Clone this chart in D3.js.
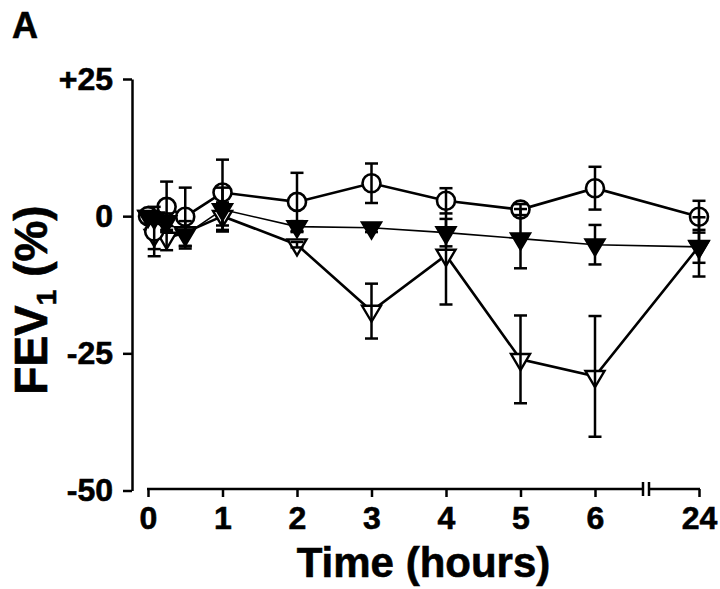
<!DOCTYPE html>
<html><head><meta charset="utf-8">
<script src="https://cdn.jsdelivr.net/npm/d3@7"></script>
<style>
html,body{margin:0;padding:0;background:#fff;}
svg{display:block;font-family:"Liberation Sans",Arial,Helvetica,sans-serif;font-weight:bold;}
</style></head>
<body><svg id="chart" width="720" height="589"></svg>
<script>
// ---- data ----
const times = [0, 0.083, 0.25, 0.5, 1, 2, 3, 4, 5, 6, 24];
const xTickValues = [0, 1, 2, 3, 4, 5, 6, 24];
const yTickValues = [25, 0, -25, -50];
const yTickLabels = ["+25", "0", "-25", "-50"];

const openCircle = [0, -2.8, 1.7, -0.1, 4.3, 2.6, 6.0, 2.8, 1.2, 5.1, -0.1];
const openCircleErr = [0, 4.5, 4.6, 5.3, 6.0, 5.3, 3.6, 2.3, 1.0, 3.9, 2.9];

const openTriangle = [0, -3.5, -4.0, -3.0, 0, -5.2, -17.3, -7.1, -26.1, -29.2, -5.5];
const openTriangleErr = [0, 2.5, 2.2, 2.5, 2.5, 0.5, 5.0, 9.0, 8.0, 11.0, 3.0];

const filledTriangle = [0, -0.3, -1.0, -3.4, 1.2, -1.9, -2.1, -3.0, -4.1, -5.2, -5.6];
const filledTriangleErr = [0, 1.0, 1.5, 2.5, 4.0, 1.0, 0.8, 2.5, 5.4, 3.6, 5.4];

// ---- layout ----
const svg = d3.select("#chart");
const x = d3.scaleLinear().domain([0, 6, 24]).range([148, 595, 699]);
const y = d3.scaleLinear().domain([-50, 25]).range([490.5, 79]);
const axisY = 489;
const yAxisX = 132;
const txt = sel => sel.attr("font-family", "Liberation Sans, Arial, sans-serif")
  .attr("font-weight", "bold").attr("fill", "#000").attr("stroke", "#000").attr("stroke-width", 0.6);

// title A
svg.append("text").attr("x", 12).attr("y", 38).attr("font-size", 36).call(txt).text("A");

// y axis
const gy = svg.append("g").attr("transform", `translate(${yAxisX},0)`);
gy.call(d3.axisLeft(y).tickValues(yTickValues).tickSize(9).tickSizeOuter(0)
  .tickFormat((d, i) => yTickLabels[i]).tickPadding(10));
gy.select(".domain").attr("stroke", "#000").attr("stroke-width", 2.5);
gy.selectAll(".tick line").attr("stroke", "#000").attr("stroke-width", 2.5);
gy.selectAll(".tick text").attr("font-size", 32).call(txt);

// x axis with break
const gx = svg.append("g").attr("transform", `translate(0,${axisY})`);
gx.call(d3.axisBottom(x).tickValues(xTickValues).tickSize(8).tickSizeOuter(0).tickPadding(9)
  .tickFormat(d3.format("d")));
gx.select(".domain").remove();
gx.selectAll(".tick line").attr("stroke", "#000").attr("stroke-width", 2.5);
gx.selectAll(".tick text").attr("font-size", 32).call(txt);
const breakL = 643, breakR = 649;
gx.append("line").attr("x1", x(0) - 1).attr("x2", breakL).attr("y1", 0).attr("y2", 0)
  .attr("stroke", "#000").attr("stroke-width", 2.5);
gx.append("line").attr("x1", breakR).attr("x2", x(24) + 1).attr("y1", 0).attr("y2", 0)
  .attr("stroke", "#000").attr("stroke-width", 2.5);
[breakL, breakR].forEach(bx => gx.append("line").attr("x1", bx).attr("x2", bx)
  .attr("y1", -7).attr("y2", 7).attr("stroke", "#000").attr("stroke-width", 2.5));

// axis titles
svg.append("text").attr("x", (x(0) + x(24)) / 2).attr("y", 577).attr("text-anchor", "middle")
  .attr("font-size", 42).call(txt).text("Time (hours)");
const yt = svg.append("text").attr("transform", "translate(47,300) rotate(-90)")
  .attr("text-anchor", "middle").attr("font-size", 46).call(txt);
yt.append("tspan").text("FEV");
yt.append("tspan").attr("font-size", 28).attr("dy", 9).text("1");
yt.append("tspan").attr("dy", -9).text(" (%)");

// ---- series ----
function series(vals, errs) { return times.map((t, i) => ({t, v: vals[i], e: errs[i]})); }
const sets = [
  {data: series(openTriangle, openTriangleErr), type: "otri", lw: 2.6},
  {data: series(openCircle, openCircleErr), type: "circ", lw: 2.6},
  {data: series(filledTriangle, filledTriangleErr), type: "ftri", lw: 1.6},
];
const line = d3.line().x(d => x(d.t)).y(d => y(d.v));
sets.forEach(s => {
  svg.append("path").datum(s.data).attr("d", line).attr("fill", "none")
    .attr("stroke", "#000").attr("stroke-width", s.lw);
});
const triPath = (cx, cy) => {
  const w = 19, h = 16;
  return `M${cx - w / 2},${cy - h / 3}L${cx + w / 2},${cy - h / 3}L${cx},${cy + 2 * h / 3}Z`;
};
// markers and error bars, per series
sets.forEach(s => {
  const g = svg.append("g");
  s.data.forEach(d => {
    if (s.type === "circ") {
      g.append("circle").attr("cx", x(d.t)).attr("cy", y(d.v)).attr("r", 9)
        .attr("fill", "#fff").attr("stroke", "#000").attr("stroke-width", 2.6);
    } else {
      g.append("path").attr("d", triPath(x(d.t), y(d.v)))
        .attr("fill", s.type === "ftri" ? "#000" : "#fff").attr("stroke", "#000")
        .attr("stroke-width", 2.4).attr("stroke-linejoin", "miter");
    }
  });
  const ge = svg.append("g").attr("stroke", "#000").attr("stroke-width", 2.5);
  s.data.filter(d => d.e > 0).forEach(d => {
    const cx = x(d.t), y1 = y(d.v + d.e), y2 = y(d.v - d.e);
    ge.append("line").attr("x1", cx).attr("x2", cx).attr("y1", y1).attr("y2", y2);
    ge.append("line").attr("x1", cx - 6.5).attr("x2", cx + 6.5).attr("y1", y1).attr("y2", y1);
    ge.append("line").attr("x1", cx - 6.5).attr("x2", cx + 6.5).attr("y1", y2).attr("y2", y2);
  });
});
</script></body></html>
